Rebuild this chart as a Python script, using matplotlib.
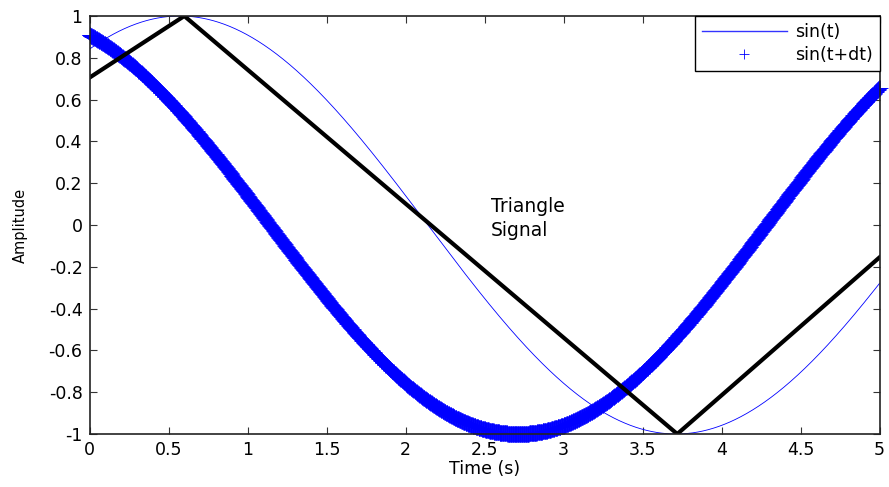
import numpy as np
import matplotlib
matplotlib.use("Agg")
import matplotlib.pyplot as plt

# ---- data ----
t_start, t_end, n_points = 0.0, 5.0, 2001
phase_sin = 1.0          # phase of the thin "sin(t)" curve
phase_dt = 2.0           # phase of the "sin(t+dt)" marker curve
tri_t = [0.0, 0.60, 3.72, 5.0]
tri_y = [0.705, 1.0, -1.0, -0.155]
xticks = [0, 0.5, 1, 1.5, 2, 2.5, 3, 3.5, 4, 4.5, 5]
xticklabels = ["0", "0.5", "1", "1.5", "2", "2.5", "3", "3.5", "4", "4.5", "5"]
yticks = [-1, -0.8, -0.6, -0.4, -0.2, 0, 0.2, 0.4, 0.6, 0.8, 1]
yticklabels = ["-1", "-0.8", "-0.6", "-0.4", "-0.2", "0", "0.2", "0.4", "0.6", "0.8", "1"]

t = np.linspace(t_start, t_end, n_points)
y1 = np.sin(t + phase_sin)
y2 = np.sin(t + phase_dt)

plt.rcParams['font.family'] = ['DejaVu Sans']
fig = plt.figure(figsize=(8.89, 4.87), dpi=100)
ax = fig.add_axes([89.5/889, 1-434/487, (879.5-89.5)/889, (434-16)/487])

ax.plot(t, y1, color='#0000ff', lw=0.6, label='sin(t)')
ax.plot(t, y2, ls='none', marker='+', color='#0000ff', ms=11, mew=0.6,
        label='sin(t+dt)', clip_on=False)
ax.plot(tri_t, tri_y, color='black', lw=3)

ax.text(2.54, 0.135, "Triangle\nSignal", fontsize=13.5,
        va='top', ha='left', linespacing=1.35)

ax.set_xlim(0, 5)
ax.set_ylim(-1, 1)
ax.set_xticks(xticks)
ax.set_xticklabels(xticklabels)
ax.set_yticks(yticks)
ax.set_yticklabels(yticklabels)
ax.tick_params(direction='in', length=5, width=0.8, top=True, right=True,
               labelsize=12.5, color='#333333')
ax.tick_params(axis='x', pad=5)
ax.tick_params(axis='y', pad=5)
for s in ax.spines.values():
    s.set_linewidth(1.2)
    s.set_color('#222222')
ax.set_xlabel("Time (s)", fontsize=12.5, labelpad=1)
ax.set_ylabel("Amplitude", fontsize=10.5, labelpad=15)

leg = ax.legend(loc='upper right', fontsize=12.5, borderaxespad=0, fancybox=False,
                edgecolor='black', framealpha=1, handlelength=4.9, labelspacing=0.3,
                borderpad=0.4, handletextpad=0.45, markerscale=0.7)
leg.get_frame().set_linewidth(1.0)
leg.get_lines()[0].set_color('#3333ff')
leg.get_lines()[0].set_linewidth(1.0)

fig.savefig("out.png", dpi=100)
